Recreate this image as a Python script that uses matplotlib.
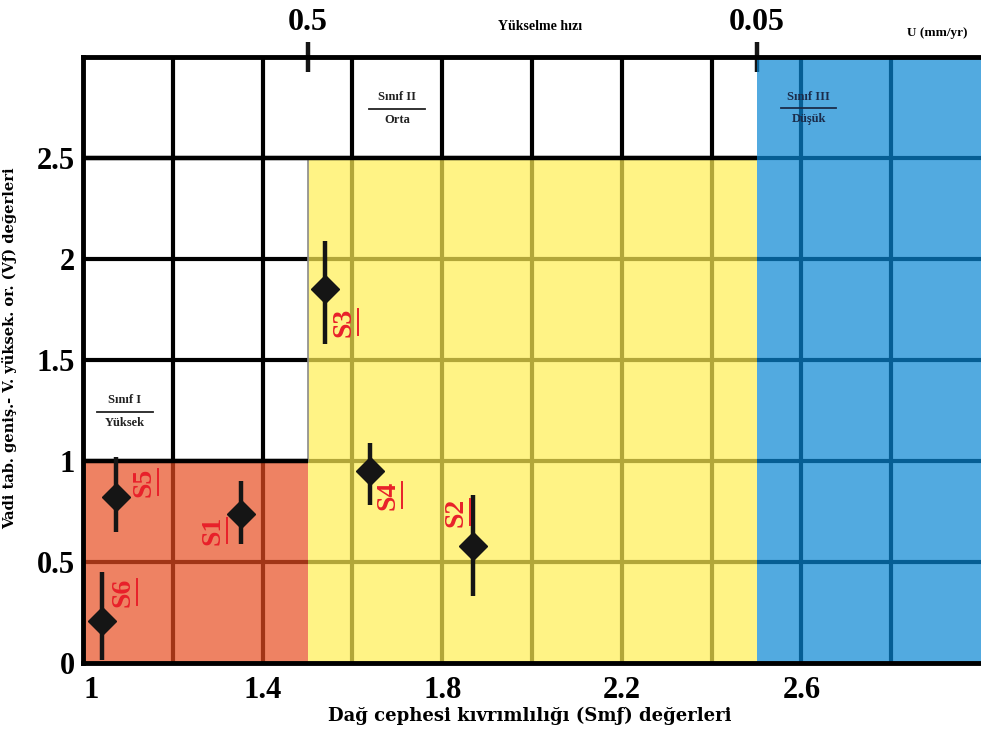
import matplotlib
matplotlib.use("Agg")
import matplotlib.pyplot as plt
from matplotlib.patches import Rectangle
from matplotlib.lines import Line2D

# ---- data ----
site_names = ["S1", "S2", "S3", "S4", "S5", "S6"]
smf_values = [1.351, 1.869, 1.538, 1.640, 1.073, 1.042]
vf_values = [0.74, 0.58, 1.85, 0.95, 0.82, 0.21]
vf_low = [0.59, 0.33, 1.58, 0.78, 0.65, 0.015]
vf_high = [0.90, 0.83, 2.09, 1.09, 1.02, 0.45]
label_x = [1.289, 1.831, 1.582, 1.680, 1.136, 1.089]
label_y = [0.655, 0.748, 1.688, 0.832, 0.896, 0.351]

x_ticks = [1.0, 1.4, 1.8, 2.2, 2.6]
x_tick_labels = ["1", "1.4", "1.8", "2.2", "2.6"]
y_ticks = [0, 0.5, 1, 1.5, 2, 2.5]
y_tick_labels = ["0", "0.5", "1", "1.5", "2", "2.5"]
grid_x = [1.2, 1.4, 1.6, 1.8, 2.0, 2.2, 2.4, 2.6, 2.8]
grid_y = [0.5, 1.0, 1.5, 2.0, 2.5]
top_ticks = [1.5, 2.5]
top_tick_labels = ["0.5", "0.05"]

# class zones: (x0, x1, y0, y1)
zone_red = (1.0, 1.5, 0.0, 1.0)
zone_yellow = (1.5, 2.5, 0.0, 2.5)
zone_blue = (2.5, 3.0, 0.0, 3.0)

class_titles = ["Sınıf I", "Sınıf II", "Sınıf III"]
class_names = ["Yüksek", "Orta", "Düşük"]
class_x = [1.093, 1.700, 2.616]
class_y = [1.245, 2.745, 2.748]
class_colors = ["#222222", "#222222", "#1b2c4a"]

SERIF = ["Liberation Serif", "DejaVu Serif"]

fig = plt.figure(figsize=(9.81, 7.31), dpi=100)
ax = fig.add_axes([83 / 981, 68 / 731, 898 / 981, 606 / 731])
ax.set_xlim(1.0, 3.0)
ax.set_ylim(0.0, 3.0)

# grid (under translucent zones)
for gx in grid_x:
    ax.axvline(gx, color="black", lw=3.0, zorder=1)
for gy in grid_y:
    ax.axhline(gy, color="black", lw=3.0, zorder=1)

alpha = 0.7
for (x0, x1, y0, y1), col in [(zone_red, "#e74d21"), (zone_yellow, "#ffee52"), (zone_blue, "#0987d4")]:
    ax.add_patch(Rectangle((x0, y0), x1 - x0, y1 - y0, facecolor=col, alpha=alpha,
                           edgecolor="none", zorder=2))

# zone borders
ax.plot([zone_yellow[0], zone_yellow[0]], [zone_red[3], zone_yellow[3]], color="#8a8a8a", lw=1.2, zorder=3)
ax.plot([1.0, zone_yellow[1]], [zone_yellow[3], zone_yellow[3]], color="black", lw=3.2, zorder=3,
        solid_capstyle="butt")
ax.plot([1.0, zone_red[1]], [zone_red[3], zone_red[3]], color="black", lw=3.2, zorder=3,
        solid_capstyle="butt")

# data points with error bars
yerr = [[v - lo for v, lo in zip(vf_values, vf_low)], [hi - v for v, hi in zip(vf_values, vf_high)]]
ax.errorbar(smf_values, vf_values, yerr=yerr, fmt="D", color="#151515", ms=14, elinewidth=3.2,
            capsize=0, zorder=5)

texts = []
for name, lx, ly in zip(site_names, label_x, label_y):
    t = ax.text(lx, ly, name, rotation=90, color="#e8202a", fontsize=20, fontweight="bold",
                family=SERIF, ha="center", va="center", zorder=6)
    texts.append(t)

# class labels
for title, nm, cx, cy, cc in zip(class_titles, class_names, class_x, class_y, class_colors):
    ax.text(cx, cy + 0.025, title, ha="center", va="bottom", fontsize=9, fontweight="bold",
            family=SERIF, color=cc, zorder=6)
    ax.text(cx, cy - 0.025, nm, ha="center", va="top", fontsize=9, fontweight="bold",
            family=SERIF, color=cc, zorder=6)
    ax.plot([cx - 0.062, cx + 0.062], [cy, cy], color=cc, lw=1.3, zorder=6)

# spines
for side in ["left", "bottom", "top"]:
    ax.spines[side].set_linewidth(3.5)
    ax.spines[side].set_color("black")
    ax.spines[side].set_zorder(7)
ax.spines["right"].set_visible(False)

ax.set_xticks(x_ticks)
ax.set_xticklabels(x_tick_labels, fontsize=22, fontweight="bold", family=SERIF)
ax.get_xticklabels()[0].set_ha("left")
ax.set_yticks(y_ticks)
ax.set_yticklabels(y_tick_labels, fontsize=22, fontweight="bold", family=SERIF)
ax.tick_params(axis="both", length=0)
ax.tick_params(axis="x", pad=9)
ax.tick_params(axis="y", pad=6)

ax.set_xlabel("Dağ cephesi kıvrımlılığı (Smƒ) değerleri", fontsize=13, fontweight="bold",
              family=["DejaVu Serif"])
ax.xaxis.set_label_coords(0.497, -44 / 606, transform=ax.transAxes)
ax.set_ylabel("Vadi tab. geniş.- V. yüksek. or. (Vƒ) değerleri", fontsize=10.5, fontweight="bold",
              family=["DejaVu Serif"])
ax.yaxis.set_label_coords(-66 / 898, (663 - 348) / 606, transform=ax.transAxes)

top = ax.secondary_xaxis("top")
top.set_xticks(top_ticks)
top.set_xticklabels(top_tick_labels, fontsize=23, fontweight="bold", family=SERIF)
top.tick_params(axis="x", direction="inout", length=21, width=3.2, pad=4, color="#151515")
top.spines["top"].set_visible(False)

fig.text(540 / 981, 1 - 27 / 731, "Yükselme hızı", ha="center", va="center", fontsize=10,
         fontweight="bold", family=SERIF)
fig.text(937 / 981, 1 - 33 / 731, "U (mm/yr)", ha="center", va="center", fontsize=9.5,
         fontweight="bold", family=SERIF)

# underline the site labels (on the right side, since text is rotated)
fig.canvas.draw()
inv = fig.transFigure.inverted()
for t in texts:
    bb = t.get_window_extent()
    xline = bb.x1 + 1.5
    p0 = inv.transform((xline, bb.y0 + 2))
    p1 = inv.transform((xline, bb.y1 - 2))
    fig.add_artist(Line2D([p0[0], p1[0]], [p0[1], p1[1]], color="#e8202a", lw=1.4, zorder=8))

fig.savefig("out.png", dpi=100, facecolor="white")
